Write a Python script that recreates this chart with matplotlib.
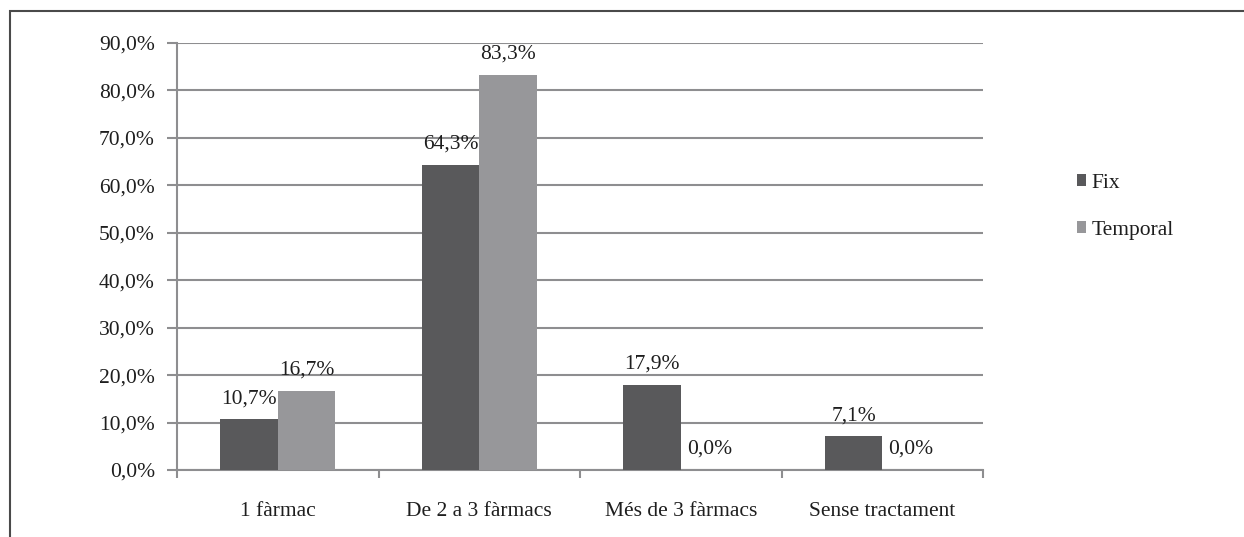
import numpy as np
import matplotlib
matplotlib.use('Agg')
import matplotlib.pyplot as plt
from matplotlib.patches import Rectangle

categories = ['1 fàrmac', 'De 2 a 3 fàrmacs', 'Més de 3 fàrmacs', 'Sense tractament']
fix = [10.7, 64.3, 17.9, 7.1]
temporal = [16.7, 83.3, 0.0, 0.0]
series_names = ['Fix', 'Temporal']
yticks = [0, 10, 20, 30, 40, 50, 60, 70, 80, 90]

plt.rcParams['font.family'] = ['Liberation Serif', 'DejaVu Serif']
plt.rcParams['font.size'] = 15.5
plt.rcParams['text.color'] = '#1e1e1e'
plt.rcParams['xtick.labelcolor'] = '#1e1e1e'
plt.rcParams['ytick.labelcolor'] = '#1e1e1e'

fig = plt.figure(figsize=(12.44, 5.37), dpi=100)
ax = fig.add_axes([0.1423, 0.1248, 0.6479, 0.7952])

# frame around the figure (clipped at right and bottom in the original)
fig.patches.append(Rectangle((10 / 1244, -0.1), 1.2, 1.1 - 11 / 537,
                             transform=fig.transFigure, fill=False,
                             edgecolor='#4a4a4a', linewidth=1.5))

grey = '#8e8e90'
x = np.arange(len(categories))
w = 0.285
b1 = ax.bar(x - w / 2, fix, w, color='#59595b', label=series_names[0], zorder=3)
b2 = ax.bar(x + w / 2, temporal, w, color='#97979a', label=series_names[1], zorder=3)

for bars, vals in ((b1, fix), (b2, temporal)):
    for rect, v in zip(bars, vals):
        ax.annotate('{:.1f}%'.format(v).replace('.', ','),
                    (rect.get_x() + rect.get_width() / 2, v),
                    xytext=(0, 8), textcoords='offset points',
                    ha='center', va='bottom')

ax.set_xlim(-0.5, len(categories) - 0.5)
ax.set_ylim(0, 90)
ax.set_yticks(yticks)
ax.set_yticklabels(['{:.1f}%'.format(t).replace('.', ',') for t in yticks])
ax.yaxis.grid(True, color=grey, linewidth=1.5, zorder=0)
ax.set_axisbelow(True)

ax.set_xticks(np.arange(-0.5, len(categories), 1.0))
ax.set_xticklabels([])
ax.set_xticks(x, minor=True)
ax.set_xticklabels(categories, minor=True)
ax.tick_params(axis='x', which='minor', length=0, pad=23)
ax.tick_params(axis='x', which='major', length=6, width=1.5, color=grey, direction='out')
ax.tick_params(axis='y', length=7, width=1.5, color=grey, pad=9)

for side in ('top', 'right'):
    ax.spines[side].set_visible(False)
for side in ('left', 'bottom'):
    ax.spines[side].set_color(grey)
    ax.spines[side].set_linewidth(1.5)

fig.legend(handles=[b1, b2], loc='upper left', bbox_to_anchor=(1068 / 1244, 1 - 165 / 537),
           frameon=False, handlelength=0.45, handleheight=0.45, handletextpad=0.25,
           labelspacing=1.3, borderaxespad=0)

fig.savefig('out.png', dpi=100)
